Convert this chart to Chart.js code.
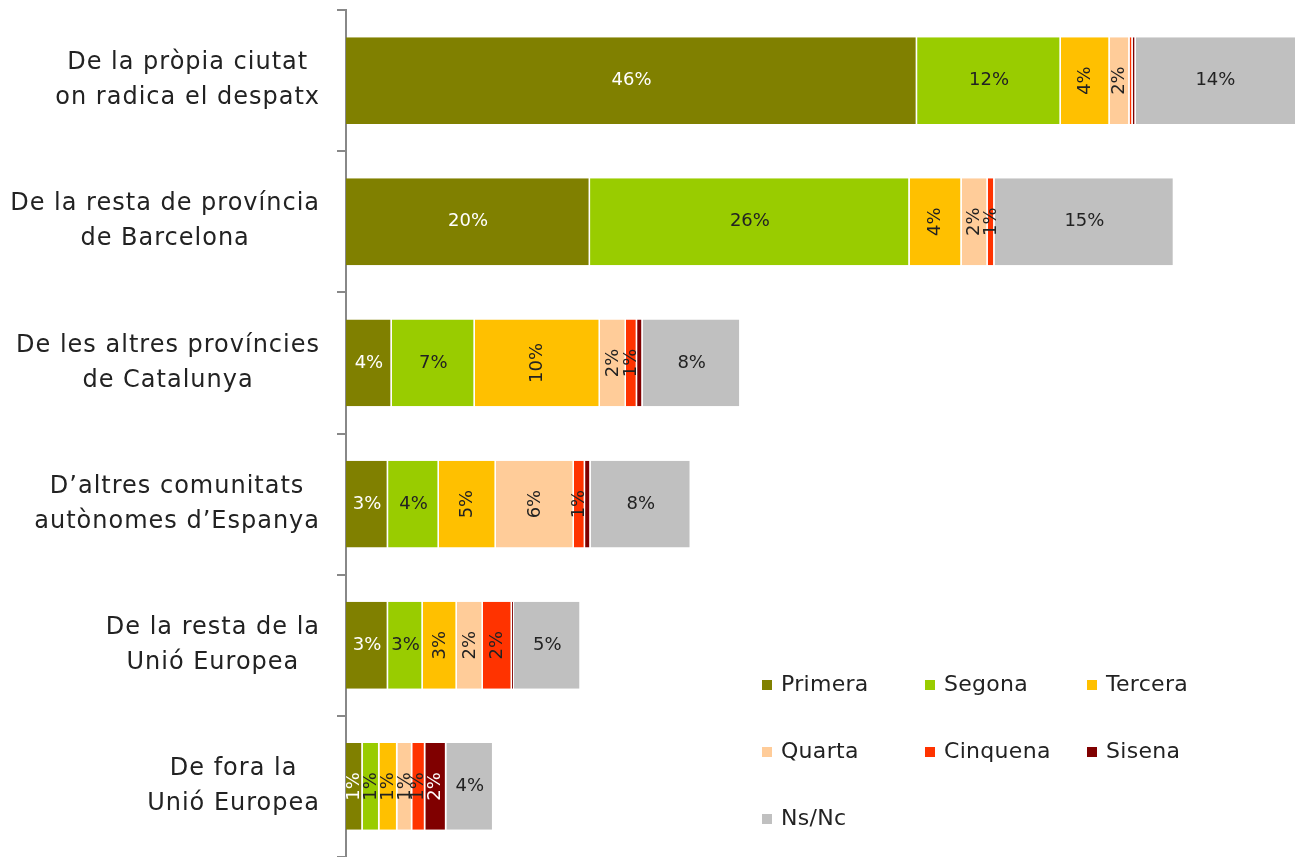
<!DOCTYPE html>
<html>
<head>
<meta charset="utf-8">
<script src="https://cdn.jsdelivr.net/npm/chart.js@4/dist/chart.umd.min.js"></script>
<style>
html,body{margin:0;padding:0;background:#fff;}
#wrap{position:relative;width:1295px;height:857px;}
#legend{position:absolute;left:0;top:0;font-family:"DejaVu Sans",sans-serif;font-size:22px;color:#222;}
.li{position:absolute;white-space:nowrap;line-height:24px;letter-spacing:0.3px;}
.li span.b{display:inline-block;width:10px;height:10px;margin-right:9px;vertical-align:1px;}
</style>
</head>
<body>
<div id="wrap">
<canvas id="c" width="1295" height="857"></canvas>
<div id="legend"></div>
</div>
<script>
const categories = [
  ['De la pròpia ciutat','on radica el despatx'],
  ['De la resta de província','de Barcelona'],
  ['De les altres províncies','de Catalunya'],
  ['D’altres comunitats','autònomes d’Espanya'],
  ['De la resta de la','Unió Europea'],
  ['De fora la','Unió Europea']
];
const seriesNames = ['Primera','Segona','Tercera','Quarta','Cinquena','Sisena','Ns/Nc'];
const primera  = [46.1, 19.7, 3.7, 3.4, 3.4, 1.35];
const segona   = [11.6, 25.8, 6.7, 4.1, 2.8, 1.35];
const tercera  = [3.95, 4.2, 10.1, 4.6, 2.75, 1.45];
const quarta   = [1.6, 2.1, 2.1, 6.3, 2.1, 1.2];
const cinquena = [0.25, 0.55, 0.9, 0.9, 2.35, 1.05];
const sisena   = [0.25, 0, 0.45, 0.45, 0.15, 1.7];
const nsnc     = [14.0, 14.5, 7.9, 8.1, 5.4, 3.8];
const colors = ['#808000','#99CC00','#FFC000','#FFCC99','#FF3300','#800000','#C0C0C0'];
const labelColors = ['#ffffff','#222222','#222222','#222222','#222222','#ffffff','#222222'];
const xMax = 76.6;

const seriesValues = [primera, segona, tercera, quarta, cinquena, sisena, nsnc];
const FONT = '"DejaVu Sans", sans-serif';

const datasets = seriesValues.map((vals, i) => ({
  label: seriesNames[i],
  data: vals,
  backgroundColor: colors[i],
  borderColor: '#ffffff',
  borderWidth: {top:0, bottom:0, left:0, right:1.5},
  borderSkipped: false,
  categoryPercentage: 1,
  barPercentage: 0.615
}));

const valueLabels = {
  id: 'valueLabels',
  afterDatasetsDraw(chart) {
    const ctx = chart.ctx, area = chart.chartArea;
    ctx.save();
    ctx.font = '18px ' + FONT;
    ctx.textBaseline = 'middle';
    ctx.textAlign = 'center';
    chart.data.datasets.forEach((ds, di) => {
      const meta = chart.getDatasetMeta(di);
      meta.data.forEach((el, j) => {
        const v = ds.data[j];
        if (v < 0.5) return;
        const left = Math.min(el.base, el.x);
        const right = Math.min(Math.max(el.base, el.x), area.right);
        const cx = (left + right) / 2;
        const w = right - left;
        const txt = Math.round(v) + '%';
        ctx.fillStyle = labelColors[di];
        const rotate = (di >= 2 && di <= 5) || w < 25;
        ctx.save();
        ctx.translate(cx, el.y);
        if (rotate) ctx.rotate(-Math.PI / 2);
        ctx.fillText(txt, 0, 0);
        ctx.restore();
      });
    });
    ctx.restore();
  }
};

const catLabels = {
  id: 'catLabels',
  afterDraw(chart) {
    const ctx = chart.ctx, y = chart.scales.y;
    ctx.save();
    ctx.font = '24px ' + FONT;
    try { ctx.letterSpacing = '1px'; } catch (e) {}
    ctx.fillStyle = '#222';
    ctx.textAlign = 'center';
    ctx.textBaseline = 'middle';
    const rightEdge = 320, lh = 35;
    categories.forEach((lines, i) => {
      const cy = y.getPixelForValue(i);
      const maxW = Math.max(...lines.map(l => ctx.measureText(l).width));
      const cx = rightEdge - maxW / 2;
      lines.forEach((l, k) => {
        ctx.fillText(l, cx, cy + (k - (lines.length - 1) / 2) * lh);
      });
    });
    ctx.restore();
  }
};

new Chart(document.getElementById('c'), {
  type: 'bar',
  data: { labels: categories.map(c => c.join(' ')), datasets },
  options: {
    indexAxis: 'y',
    responsive: false,
    animation: false,
    layout: { padding: { top: 10, bottom: 0, left: 0, right: 0 } },
    plugins: { legend: { display: false }, tooltip: { enabled: false } },
    scales: {
      x: { stacked: true, display: false, min: 0, max: xMax },
      y: {
        stacked: true,
        offset: true,
        ticks: { display: false },
        grid: { display: true, offset: true, drawOnChartArea: false, drawTicks: true, tickLength: 9, color: '#888888', lineWidth: 2 },
        border: { display: true, color: '#888888', width: 2 },
        afterFit(s) { s.width = 346; }
      }
    }
  },
  plugins: [valueLabels, catLabels]
});

// legend
const legendPos = [[762,672],[925,672],[1087,672],[762,739],[925,739],[1087,739],[762,806]];
const lg = document.getElementById('legend');
seriesNames.forEach((n, i) => {
  const d = document.createElement('div');
  d.className = 'li';
  d.style.left = legendPos[i][0] + 'px';
  d.style.top = legendPos[i][1] + 'px';
  d.innerHTML = '<span class="b" style="background:' + colors[i] + '"></span>' + n;
  lg.appendChild(d);
});
</script>
</body>
</html>
